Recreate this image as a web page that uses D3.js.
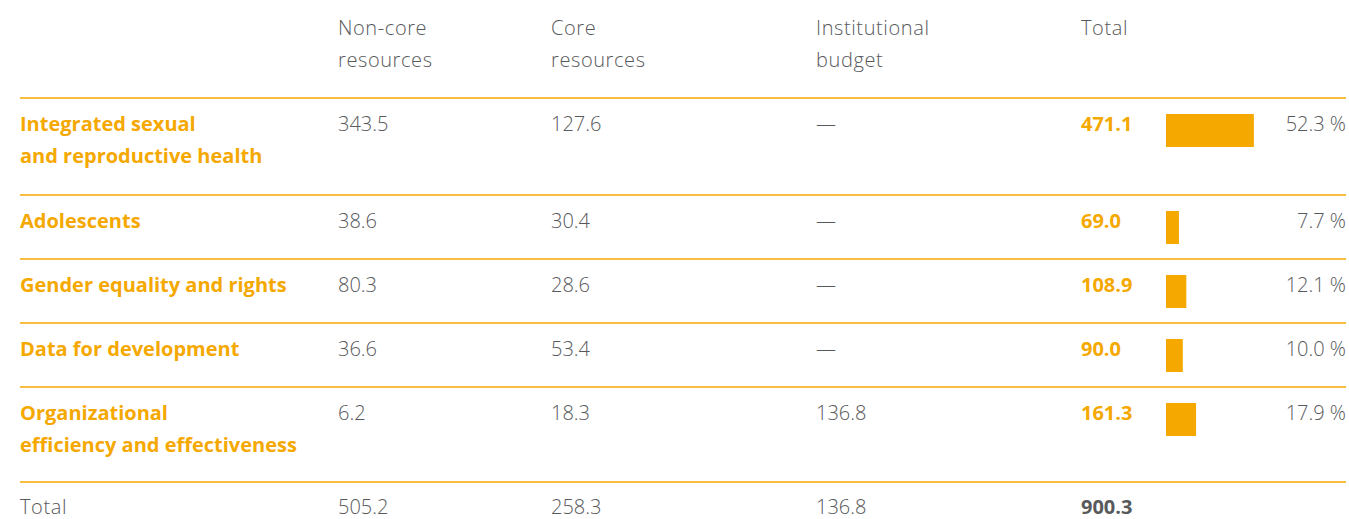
<!DOCTYPE html>
<html>
<head>
<meta charset="utf-8">
<script src="https://cdn.jsdelivr.net/npm/d3@7"></script>
<style>
  html, body { margin: 0; padding: 0; background: #ffffff; }
  svg text { font-family: "Open Sans", Lato, sans-serif; }
</style>
</head>
<body>
<svg id="chart" width="1349" height="519"></svg>
<script>
// tabela de recursos por resultado, com barra da parcela no total
const headers = [["Non-core", "resources"], ["Core", "resources"], ["Institutional", "budget"], ["Total"]];
const outcomes = [
  ["Integrated sexual", "and reproductive health"],
  ["Adolescents"],
  ["Gender equality and rights"],
  ["Data for development"],
  ["Organizational", "efficiency and effectiveness"],
];
const nonCore = [343.5, 38.6, 80.3, 36.6, 6.2];
const core = [127.6, 30.4, 28.6, 53.4, 18.3];
const institutional = [null, null, null, null, 136.8];
const totals = [471.1, 69.0, 108.9, 90.0, 161.3];
const shares = [52.3, 7.7, 12.1, 10.0, 17.9];
const grandTotal = ["Total", 505.2, 258.3, 136.8, 900.3];

const ORANGE = "#f5a800";
const GRAY = "#58595b";
const FS = 20;

const svg = d3.select("#chart");
const colX = [20, 338, 551, 816, 1081];
const lineLeft = 20, lineRight = 1346;
const lineH = 32;

// linhas horizontais (topo de cada bloco)
const rowTops = [98, 195, 259, 323, 387];
const footTop = 482;

const barX = d3.scaleLinear().domain([0, 100]).range([0, 168]);
const barLeft = 1166;

const fmt = (v) => (v == null ? "\u2014" : v.toFixed(1));

// cabeçalho
headers.forEach((lines, i) => {
  const t = svg.append("text")
    .attr("x", colX[i + 1]).attr("y", 35)
    .attr("fill", GRAY).attr("font-size", FS).attr("font-weight", 300)
    .attr("letter-spacing", 0.6);
  lines.forEach((s, j) => t.append("tspan").attr("x", colX[i + 1]).attr("dy", j ? lineH : 0).text(s));
});

svg.selectAll("line.rule")
  .data(rowTops.concat([footTop]))
  .join("line")
  .attr("class", "rule")
  .attr("x1", lineLeft).attr("x2", lineRight)
  .attr("y1", (d) => d).attr("y2", (d) => d)
  .attr("stroke", ORANGE).attr("stroke-width", 1.3);

const rows = svg.selectAll("g.row")
  .data(outcomes.map((label, i) => ({
    label, top: rowTops[i],
    vals: [nonCore[i], core[i], institutional[i]],
    total: totals[i], share: shares[i],
  })))
  .join("g")
  .attr("class", "row")
  .attr("transform", (d) => `translate(0,${d.top})`);

rows.each(function (d) {
  const g = d3.select(this);
  const t = g.append("text")
    .attr("x", colX[0]).attr("y", 33)
    .attr("fill", ORANGE).attr("font-size", FS).attr("font-weight", 700);
  d.label.forEach((s, j) => t.append("tspan").attr("x", colX[0]).attr("dy", j ? lineH : 0).text(s));

  d.vals.forEach((v, k) => {
    g.append("text")
      .attr("x", colX[k + 1]).attr("y", 33)
      .attr("fill", GRAY).attr("font-size", FS).attr("font-weight", 300)
      .text(fmt(v));
  });

  g.append("text")
    .attr("x", colX[4]).attr("y", 33)
    .attr("fill", ORANGE).attr("font-size", FS).attr("font-weight", 700)
    .text(fmt(d.total));

  g.append("rect")
    .attr("x", barLeft).attr("y", 16)
    .attr("width", barX(d.share)).attr("height", 33)
    .attr("fill", ORANGE);

  g.append("text")
    .attr("x", lineRight).attr("y", 33)
    .attr("text-anchor", "end")
    .attr("fill", GRAY).attr("font-size", FS).attr("font-weight", 300)
    .text(`${d.share.toFixed(1)} %`);
});

// linha de total
grandTotal.forEach((v, i) => {
  svg.append("text")
    .attr("x", colX[i]).attr("y", footTop + 32)
    .attr("fill", GRAY).attr("font-size", FS)
    .attr("font-weight", i === 4 ? 700 : 300)
    .attr("letter-spacing", i === 0 ? 0.6 : 0)
    .text(typeof v === "number" ? fmt(v) : v);
});
</script>
</body>
</html>
